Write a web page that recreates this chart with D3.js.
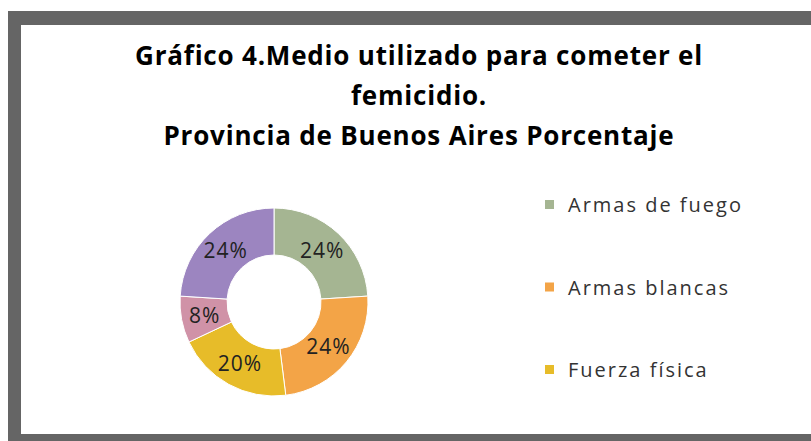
<!DOCTYPE html>
<html>
<head>
<meta charset="utf-8">
<script src="https://cdn.jsdelivr.net/npm/d3@7"></script>
<style>
  body { margin: 0; background: #fff; }
  svg { display: block; }
</style>
</head>
<body>
<div id="container"></div>
<script>
// data (percent of cases)
var categories = ['Armas de fuego', 'Armas blancas', 'Fuerza física', 'Asfixia', 'Otros']
var values = [24, 24, 20, 8, 24]
var colors = ['#a5b592', '#f3a447', '#e7bc29', '#d092a7', '#9c85c0']
var titleLines = [
    'Gráfico 4.Medio utilizado para cometer el',
    'femicidio.',
    'Provincia de Buenos Aires Porcentaje'
]

var width = 811,
    height = 441

var svg = d3
    .select('#container')
    .append('svg')
    .attr('width', width)
    .attr('height', height)

// gray frame of the screenshot
svg.append('rect')
    .attr('x', 8)
    .attr('y', 11)
    .attr('width', width)
    .attr('height', height)
    .style('fill', '#656565')
svg.append('rect')
    .attr('x', 21)
    .attr('y', 25)
    .attr('width', width)
    .attr('height', 434 - 25)
    .style('fill', '#ffffff')

// title
svg.append('g')
    .selectAll('text')
    .data(titleLines)
    .enter()
    .append('text')
    .attr('x', 419)
    .attr('y', function(d, i) {
        return 65 + i * 40
    })
    .attr('text-anchor', 'middle')
    .style('font-family', 'Open Sans, sans-serif')
    .style('font-weight', 'bold')
    .style('font-size', '26px')
    .style('letter-spacing', '0.8px')
    .style('fill', '#000')
    .text(function(d) {
        return d
    })

var data = categories.map(function(c, i) {
    return { name: c, value: values[i] }
})

var color = d3.scaleOrdinal().domain(categories).range(colors)

// donut
var cx = 274,
    cy = 302,
    outerR = 94,
    innerR = 47

var pie = d3.pie().sort(null).value(function(d) {
    return d.value
})
var arc = d3.arc().innerRadius(innerR).outerRadius(outerR)

var donut = svg.append('g').attr('transform', 'translate(' + cx + ',' + cy + ')')

donut.selectAll('path')
    .data(pie(data))
    .enter()
    .append('path')
    .attr('d', arc)
    .style('fill', function(d) {
        return color(d.data.name)
    })
    .style('stroke', '#fff')
    .style('stroke-width', 1)

donut.selectAll('text')
    .data(pie(data))
    .enter()
    .append('text')
    .attr('transform', function(d) {
        return 'translate(' + arc.centroid(d) + ')'
    })
    .attr('text-anchor', 'middle')
    .attr('dy', '.35em')
    .style('font-family', 'Open Sans, sans-serif')
    .style('font-size', '21px')
    .style('letter-spacing', '1px')
    .style('fill', '#222')
    .text(function(d) {
        return d.data.value + '%'
    })

// legend - only entries that fit inside the plot area are shown
var legendY = d3.scalePoint().domain(categories).range([205, 205 + 82.5 * (categories.length - 1)])

var legend = svg.append('g')
    .selectAll('.legend')
    .data(categories.filter(function(c) {
        return legendY(c) < 420
    }))
    .enter()
    .append('g')
    .attr('class', 'legend')
    .attr('transform', function(d) {
        return 'translate(545,' + legendY(d) + ')'
    })

legend.append('rect')
    .attr('x', 0)
    .attr('y', -5)
    .attr('width', 9)
    .attr('height', 9)
    .style('fill', function(d) {
        return color(d)
    })

legend.append('text')
    .attr('x', 23)
    .attr('dy', '.35em')
    .style('font-family', 'Open Sans, sans-serif')
    .style('font-size', '20px')
    .style('letter-spacing', '2px')
    .style('fill', '#333')
    .text(function(d) {
        return d
    })
</script>
</body>
</html>
